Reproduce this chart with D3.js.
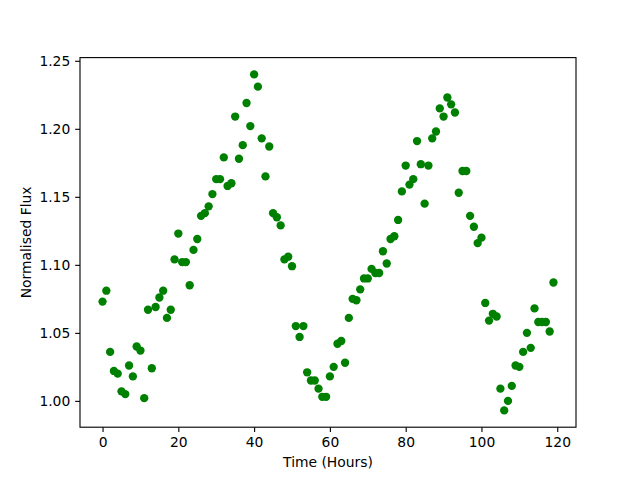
<!DOCTYPE html>
<html>
<head>
<meta charset="utf-8">
<script src="https://cdn.jsdelivr.net/npm/d3@7"></script>
<style>
  body { margin: 0; background: #fff; }
  svg { display: block; }
  text { font-family: "DejaVu Sans", sans-serif; fill: #000; }
</style>
</head>
<body>
<div id="chart"></div>
<script>
// hourly normalised flux, one reading per hour 0..119
const hours = d3.range(0, 120);
const flux = [
  1.073, 1.081, 1.036, 1.022, 1.020, 1.007, 1.005, 1.026, 1.018, 1.040,
  1.037, 1.002, 1.067, 1.024, 1.069, 1.076, 1.081, 1.061, 1.067, 1.104,
  1.123, 1.102, 1.102, 1.085, 1.111, 1.119, 1.136, 1.138, 1.143, 1.152,
  1.163, 1.163, 1.179, 1.158, 1.160, 1.209, 1.178, 1.188, 1.219, 1.202,
  1.240, 1.231, 1.193, 1.165, 1.187, 1.138, 1.135, 1.129, 1.104, 1.106,
  1.099, 1.055, 1.047, 1.055, 1.021, 1.015, 1.015, 1.009, 1.003, 1.003,
  1.018, 1.025, 1.042, 1.044, 1.028, 1.061, 1.075, 1.074, 1.082, 1.090,
  1.090, 1.097, 1.094, 1.094, 1.110, 1.101, 1.119, 1.121, 1.133, 1.154,
  1.173, 1.159, 1.163, 1.191, 1.174, 1.145, 1.173, 1.193, 1.198, 1.215,
  1.209, 1.223, 1.218, 1.212, 1.153, 1.169, 1.169, 1.136, 1.128, 1.116,
  1.120, 1.072, 1.059, 1.064, 1.062, 1.009, 0.993, 1.000, 1.011, 1.026,
  1.025, 1.036, 1.050, 1.039, 1.068, 1.058, 1.058, 1.058, 1.051, 1.087
];
const xTicks = [0, 20, 40, 60, 80, 100, 120];
const yTicks = [1.00, 1.05, 1.10, 1.15, 1.20, 1.25];

const width = 640, height = 480;
const margin = { left: 80, right: 64, top: 57.6, bottom: 52.8 };
const pt = 100 / 72;

const points = hours.map((h, i) => ({ t: h, f: flux[i] }));

// matplotlib-style 5% padding
function padded(ext) {
  const r = ext[1] - ext[0];
  return [ext[0] - 0.05 * r, ext[1] + 0.05 * r];
}

const x = d3.scaleLinear()
  .domain(padded(d3.extent(points, d => d.t)))
  .range([margin.left, width - margin.right]);
const y = d3.scaleLinear()
  .domain(padded(d3.extent(points, d => d.f)))
  .range([height - margin.bottom, margin.top]);

const svg = d3.select("#chart").append("svg")
  .attr("width", width)
  .attr("height", height);

svg.append("g")
  .selectAll("circle")
  .data(points)
  .enter().append("circle")
  .attr("cx", d => x(d.t))
  .attr("cy", d => y(d.f))
  .attr("r", 3 * pt)
  .attr("fill", "#008000");

const xAxis = svg.append("g")
  .attr("transform", `translate(0,${height - margin.bottom})`)
  .call(d3.axisBottom(x).tickValues(xTicks).tickSize(3.5 * pt).tickPadding(3.5 * pt).tickSizeOuter(0));
const yAxis = svg.append("g")
  .attr("transform", `translate(${margin.left},0)`)
  .call(d3.axisLeft(y).tickValues(yTicks).tickFormat(d3.format(".2f")).tickSize(3.5 * pt).tickPadding(3.5 * pt).tickSizeOuter(0));

[xAxis, yAxis].forEach(a => {
  a.select(".domain").remove();
  a.selectAll(".tick line").attr("stroke", "#000").attr("stroke-width", 0.8 * pt);
  a.selectAll(".tick text").attr("font-size", 10 * pt).attr("font-family", "DejaVu Sans");
});

// frame
svg.append("rect")
  .attr("x", margin.left)
  .attr("y", margin.top)
  .attr("width", width - margin.left - margin.right)
  .attr("height", height - margin.top - margin.bottom)
  .attr("fill", "none")
  .attr("stroke", "#000")
  .attr("stroke-width", 0.8 * pt);

svg.append("text")
  .attr("x", (margin.left + width - margin.right) / 2)
  .attr("y", 467)
  .attr("text-anchor", "middle")
  .attr("font-size", 10 * pt)
  .text("Time (Hours)");

svg.append("text")
  .attr("transform", `translate(31,${(margin.top + height - margin.bottom) / 2}) rotate(-90)`)
  .attr("text-anchor", "middle")
  .attr("font-size", 10 * pt)
  .text("Normalised Flux");
</script>
</body>
</html>
